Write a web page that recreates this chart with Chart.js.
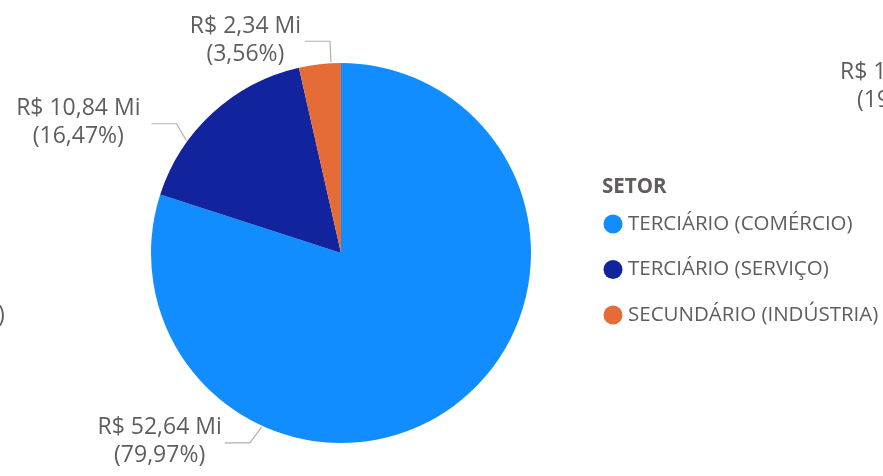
<!DOCTYPE html>
<html><head><meta charset="utf-8">
<script src="https://cdn.jsdelivr.net/npm/chart.js@4"></script>
<style>html,body{margin:0;padding:0;background:#fff;overflow:hidden}#w{width:883px;height:476px;position:relative}</style>
</head><body><div id="w"><canvas id="c"></canvas></div>
<script>
const categories = ["TERCIÁRIO (COMÉRCIO)", "TERCIÁRIO (SERVIÇO)", "SECUNDÁRIO (INDÚSTRIA)"];
const values = [52.64, 10.84, 2.34];
const valueLabels = ["R$ 52,64 Mi", "R$ 10,84 Mi", "R$ 2,34 Mi"];
const percentLabels = ["(79,97%)", "(16,47%)", "(3,56%)"];
const legendTitle = "SETOR";
const colors = ["#118DFF", "#12239E", "#E66C37"];
// label leader styling: anchor angle on arc (deg, canvas), elbow dx/dy, horizontal length
const leaderStyle = [
  {angle: 114.5, ex: -12, ey: 16, h: 25, gap: 3},
  {angle: 216, ex: -10, ey: -17, h: 25, gap: 11},
  {angle: -93, ex: -1, ey: -21, h: 25, gap: 4}
];
const FONT = '"Open Sans", "Noto Sans", sans-serif';
const TEXT = '#605E5C';

const labelPlugin = {
  id: 'labels',
  afterDraw(chart) {
    const ctx = chart.ctx;
    const meta = chart.getDatasetMeta(0);
    ctx.save();
    meta.data.forEach((arc, i) => {
      const s = leaderStyle[i];
      const a = s.angle * Math.PI / 180;
      const r = arc.outerRadius + 1;
      const ax = arc.x + r * Math.cos(a), ay = arc.y + r * Math.sin(a);
      const bx = ax + s.ex, by = ay + s.ey;
      const cx = bx - s.h, cy = by;
      ctx.strokeStyle = '#B3B0AD';
      ctx.lineWidth = 1.2;
      ctx.beginPath(); ctx.moveTo(ax, ay); ctx.lineTo(bx, by); ctx.lineTo(cx, cy); ctx.stroke();
      ctx.font = '23px ' + FONT;
      ctx.fillStyle = TEXT;
      ctx.textAlign = 'center';
      ctx.textBaseline = 'middle';
      const w = Math.max(ctx.measureText(valueLabels[i]).width, ctx.measureText(percentLabels[i]).width);
      const tx = cx - s.gap - w / 2;
      ctx.fillText(valueLabels[i], tx, cy - 15);
      ctx.fillText(percentLabels[i], tx, cy + 13);
    });
    // legend
    ctx.textAlign = 'left';
    ctx.textBaseline = 'middle';
    ctx.font = 'bold 20.5px ' + FONT;
    ctx.fillStyle = TEXT;
    ctx.fillText(legendTitle, 602, 187);
    categories.forEach((c, i) => {
      const y = 224 + i * 45.5;
      ctx.fillStyle = colors[i];
      ctx.beginPath(); ctx.arc(613, y, 9.5, 0, Math.PI * 2); ctx.fill();
      ctx.fillStyle = TEXT;
      ctx.font = '20.5px ' + FONT;
      ctx.fillText(c, 628, y);
    });
    // clipped fragments of neighbouring visuals
    ctx.font = '23px ' + FONT;
    ctx.fillStyle = TEXT;
    ctx.fillText('R$ 1', 840, 72);
    ctx.fillText('(19', 857, 100);
    ctx.fillText(')', -2, 315);
    ctx.restore();
  }
};

new Chart(document.getElementById('c'), {
  type: 'pie',
  data: { labels: categories, datasets: [{ data: values, backgroundColor: colors, borderWidth: 0 }] },
  options: {
    responsive: true, maintainAspectRatio: false, animation: false,
    layout: { padding: { top: 63, bottom: 33, left: 151, right: 352 } },
    plugins: { legend: { display: false }, tooltip: { enabled: false } }
  },
  plugins: [labelPlugin]
});
</script></body></html>
